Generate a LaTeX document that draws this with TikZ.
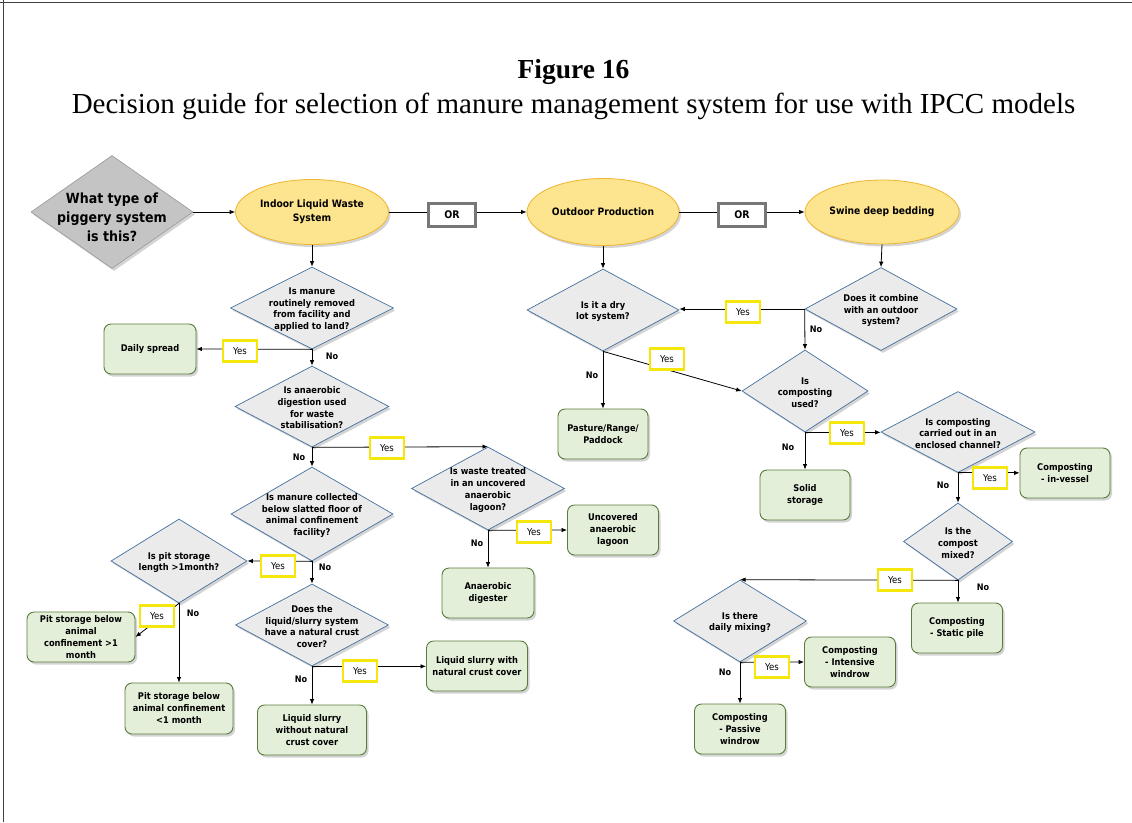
\documentclass[tikz,border=0pt]{standalone}
\usepackage{fontspec}
\setmainfont{Liberation Serif}
\newfontfamily\diag{DejaVu Sans Condensed}
\usetikzlibrary{shapes.geometric,arrows.meta,shadows}

\definecolor{qgray}{HTML}{EBEBEB}
\definecolor{qblue}{HTML}{41709F}
\definecolor{sgray}{HTML}{C4C4C4}
\definecolor{sline}{HTML}{9E9E9E}
\definecolor{efill}{HTML}{FDE48E}
\definecolor{eline}{HTML}{F0B42E}
\definecolor{rfill}{HTML}{E3EFD9}
\definecolor{rline}{HTML}{5B7A3C}
\definecolor{yel}{HTML}{F5E60C}
\definecolor{orgray}{HTML}{777777}

\tikzset{
  shad/.style={drop shadow={shadow xshift=2pt,shadow yshift=-2.5pt,opacity=0.28,fill=black!60}},
  q/.style={diamond,draw=qblue,fill=qgray,line width=0.7pt,inner sep=0pt,shad},
  qtxt/.style={align=center,inner sep=0pt,yshift=-1.5pt,font=\diag\bfseries\fontsize{9.2}{11.7}\selectfont},
  starter/.style={diamond,draw=sline,fill=sgray,line width=0.7pt,inner sep=0pt,shad},
  sys/.style={ellipse,draw=eline,fill=efill,line width=0.8pt,inner sep=0pt,align=center,
    font=\diag\bfseries\fontsize{10.2}{14}\selectfont,shad},
  res/.style={rectangle,rounded corners=7pt,draw=rline,fill=rfill,line width=0.9pt,inner sep=0pt,
    align=center,font=\diag\bfseries\fontsize{9.2}{12}\selectfont,shad},
  orbox/.style={rectangle,draw=orgray,fill=white,line width=2.4pt,minimum width=47pt,minimum height=23pt,
    inner sep=0pt,font=\diag\bfseries\fontsize{10.5}{12}\selectfont},
  yesbox/.style={rectangle,draw=yel,fill=white,line width=2.4pt,minimum width=34pt,minimum height=21pt,
    inner sep=0pt,font=\diag\fontsize{9.5}{11}\selectfont},
  nolab/.style={inner sep=0pt,font=\diag\bfseries\fontsize{9}{11}\selectfont},
  ln/.style={line width=0.8pt,black},
  arr/.style={ln,-{Latex[length=5.5pt,width=4.5pt]}},
}

\begin{document}
\begin{tikzpicture}[x=1pt,y=-1pt]
\useasboundingbox (0,0) rectangle (1132,822);
\fill[white] (0,0) rectangle (1132,822);
% page frame
\draw[line width=1pt,black!75] (0,2) -- (1132,2);
\draw[line width=1pt,black!75] (3,0) -- (3,822);

% heading
\node[anchor=base,font=\bfseries\fontsize{27.5}{30}\selectfont] (fig) at (573.5,78) {Figure 16};
\node[anchor=base,font=\fontsize{29}{32}\selectfont] (cap) at (573.5,113)
  {Decision guide for selection of manure management system for use with IPCC models};

% entry question and the three system types
\node[starter,minimum width=162pt,minimum height=113pt,
  label={[align=center,inner sep=0pt,yshift=-5pt,font=\diag\bfseries\fontsize{14}{19}\selectfont]center:{What type of\\piggery system\\is this?}}]
  (start) at (112,212) {};
\node[sys,minimum width=153pt,minimum height=65pt] (indoor) at (312,212)
  {\raisebox{-3pt}{\begin{tabular}{@{}c@{}}Indoor Liquid Waste\\System\end{tabular}}};
\node[orbox] (or1) at (452,215) {OR};
\node[sys,minimum width=152pt,minimum height=67pt] (outdoor) at (603,212) {Outdoor Production};
\node[orbox] (or2) at (742,215) {OR};
\node[sys,minimum width=154pt,minimum height=64pt] (swine) at (882,212) {Swine deep bedding};

% indoor liquid waste branch
\node[q,minimum width=163pt,minimum height=82pt,
  label={[qtxt]center:{Is manure\\routinely removed\\from facility and\\applied to land?}}] (removed) at (312,308) {};
\node[res,minimum width=92pt,minimum height=50pt] (daily) at (150,349) {Daily spread};
\node[q,minimum width=154pt,minimum height=81pt,
  label={[qtxt]center:{Is anaerobic\\digestion used\\for waste\\stabilisation?}}] (anaer) at (312,406.5) {};
\node[q,minimum width=153pt,minimum height=83pt,
  label={[qtxt]center:{Is waste treated\\in an uncovered\\anaerobic\\lagoon?}}] (lagoon) at (488,488.5) {};
\node[res,minimum width=91pt,minimum height=50pt] (uncov) at (613,530) {Uncovered\\anaerobic\\lagoon};
\node[res,minimum width=92pt,minimum height=50pt] (digester) at (488,593) {Anaerobic\\digester};
\node[q,minimum width=162pt,minimum height=94pt,
  label={[qtxt]center:{Is manure collected\\below slatted floor of\\animal confinement\\facility?}}] (slatted) at (312,514) {};
\node[q,minimum width=136pt,minimum height=84pt,
  label={[qtxt]center:{Is pit storage\\length >1month?}}] (pit) at (179,561) {};
\node[res,minimum width=108pt,minimum height=50pt] (pitlong) at (81,637) {Pit storage below\\animal\\confinement >1\\month};
\node[res,minimum width=108pt,minimum height=51pt] (pitshort) at (179,708.5) {Pit storage below\\animal confinement\\<1 month};
\node[q,minimum width=153pt,minimum height=82pt,
  label={[qtxt]center:{Does the\\liquid/slurry system\\have a natural crust\\cover?}}] (crust) at (312,625) {};
\node[res,minimum width=101pt,minimum height=50pt] (withcr) at (477,666) {Liquid slurry with\\natural crust cover};
\node[res,minimum width=109pt,minimum height=50pt] (nocr) at (312,730) {Liquid slurry\\without natural\\crust cover};

% outdoor and deep bedding branches
\node[q,minimum width=152pt,minimum height=82pt,
  label={[qtxt]center:{Is it a dry\\lot system?}}] (dry) at (603,310) {};
\node[res,minimum width=90pt,minimum height=50pt] (pasture) at (603,434) {Pasture/Range/\\Paddock};
\node[q,minimum width=152pt,minimum height=83pt,
  label={[qtxt]center:{Does it combine\\with an outdoor\\system?}}] (combine) at (881,309) {};
\node[q,minimum width=126pt,minimum height=82pt,
  label={[qtxt]center:{Is\\composting\\used?}}] (comp) at (805,391) {};
\node[res,minimum width=90pt,minimum height=50pt] (solid) at (805,495) {Solid\\storage};
\node[q,minimum width=154pt,minimum height=81pt,
  label={[qtxt]center:{Is composting\\carried out in an\\enclosed channel?}}] (encl) at (958,432) {};
\node[res,minimum width=90pt,minimum height=50pt] (vessel) at (1065,473) {Composting\\- in-vessel};
\node[q,minimum width=109pt,minimum height=77pt,
  label={[qtxt]center:{Is the\\compost\\mixed?}}] (mixed) at (958,541.5) {};
\node[res,minimum width=91pt,minimum height=50pt] (static) at (957,628) {Composting\\- Static pile};
\node[q,minimum width=133pt,minimum height=82pt,
  label={[qtxt]center:{Is there\\daily mixing?}}] (dmix) at (740,621) {};
\node[res,minimum width=91pt,minimum height=50pt] (intens) at (850,662) {Composting\\- Intensive\\windrow};
\node[res,minimum width=91pt,minimum height=50pt] (passive) at (740,729) {Composting\\- Passive\\windrow};

% top row connectors
\draw[arr] (start.east) -- (indoor.west);
\draw[ln] (indoor.east) -- (indoor.east -| or1.west);
\draw[arr] (outdoor.west -| or1.east) -- (outdoor.west);
\draw[ln] (outdoor.east) -- (outdoor.east -| or2.west);
\draw[arr] (swine.west -| or2.east) -- (swine.west);
\draw[arr] (indoor.south) -- (removed.north);
\draw[arr] (outdoor.south) -- (dry.north);
\draw[arr] (swine.south) -- (combine.north);

% yes / no connectors
\draw[arr] (removed.south) -- (daily.east);
\draw[arr] (removed.south) -- (anaer.north);
\draw[arr] (anaer.south) -- (lagoon.north);
\draw[arr] (anaer.south) -- (slatted.north);
\draw[arr] (lagoon.south) -- (uncov.west);
\draw[arr] (lagoon.south) -- (digester.north);
\draw[arr] (slatted.south) -- (pit.east);
\draw[arr] (slatted.south) -- (crust.north);
\draw[arr] (pit.south) -- (pitlong.east);
\draw[arr] (pit.south) -- (pitshort.north);
\draw[arr] (crust.south) -- (crust.south -| withcr.west);
\draw[arr] (crust.south) -- (nocr.north);
\draw[arr] (dry.south) -- (pasture.north);
\draw[arr] (dry.south) -- (comp.west);
\draw[arr] (combine.west) -- (combine.west -| dry.east);
\draw[arr] (combine.west) -- (comp.north);
\draw[arr] (comp.south) -- (comp.south -| encl.west);
\draw[arr] (comp.south) -- (solid.north);
\draw[arr] (encl.south) -- (encl.south -| vessel.west);
\draw[arr] (encl.south) -- (mixed.north);
\draw[arr] (mixed.south) -- (dmix.north);
\draw[arr] (mixed.south) -- (mixed.south |- static.north);
\draw[arr] (dmix.south) -- (intens.west);
\draw[arr] (dmix.south) -- (passive.north);

% answer labels
\node[yesbox] (y1) at (240,351) {Yes};
\node[yesbox] (y2) at (387,448) {Yes};
\node[yesbox] (y3) at (534,532) {Yes};
\node[yesbox] (y4) at (278,566) {Yes};
\node[yesbox] (y5) at (157,616) {Yes};
\node[yesbox] (y6) at (360,671) {Yes};
\node[yesbox] (y7) at (667,359) {Yes};
\node[yesbox] (y8) at (743,312) {Yes};
\node[yesbox] (y9) at (847,433) {Yes};
\node[yesbox] (y10) at (990,478) {Yes};
\node[yesbox] (y11) at (895,580) {Yes};
\node[yesbox] (y12) at (772,667) {Yes};

\node[nolab] (n1) at (332,356) {No};
\node[nolab] (n2) at (299,457) {No};
\node[nolab] (n3) at (477,543) {No};
\node[nolab] (n4) at (325,567) {No};
\node[nolab] (n5) at (193,613) {No};
\node[nolab] (n6) at (301,679) {No};
\node[nolab] (n7) at (592,375) {No};
\node[nolab] (n8) at (816,329) {No};
\node[nolab] (n9) at (788,447) {No};
\node[nolab] (n10) at (943,485) {No};
\node[nolab] (n11) at (983,587) {No};
\node[nolab] (n12) at (725,672) {No};
\end{tikzpicture}
\end{document}
